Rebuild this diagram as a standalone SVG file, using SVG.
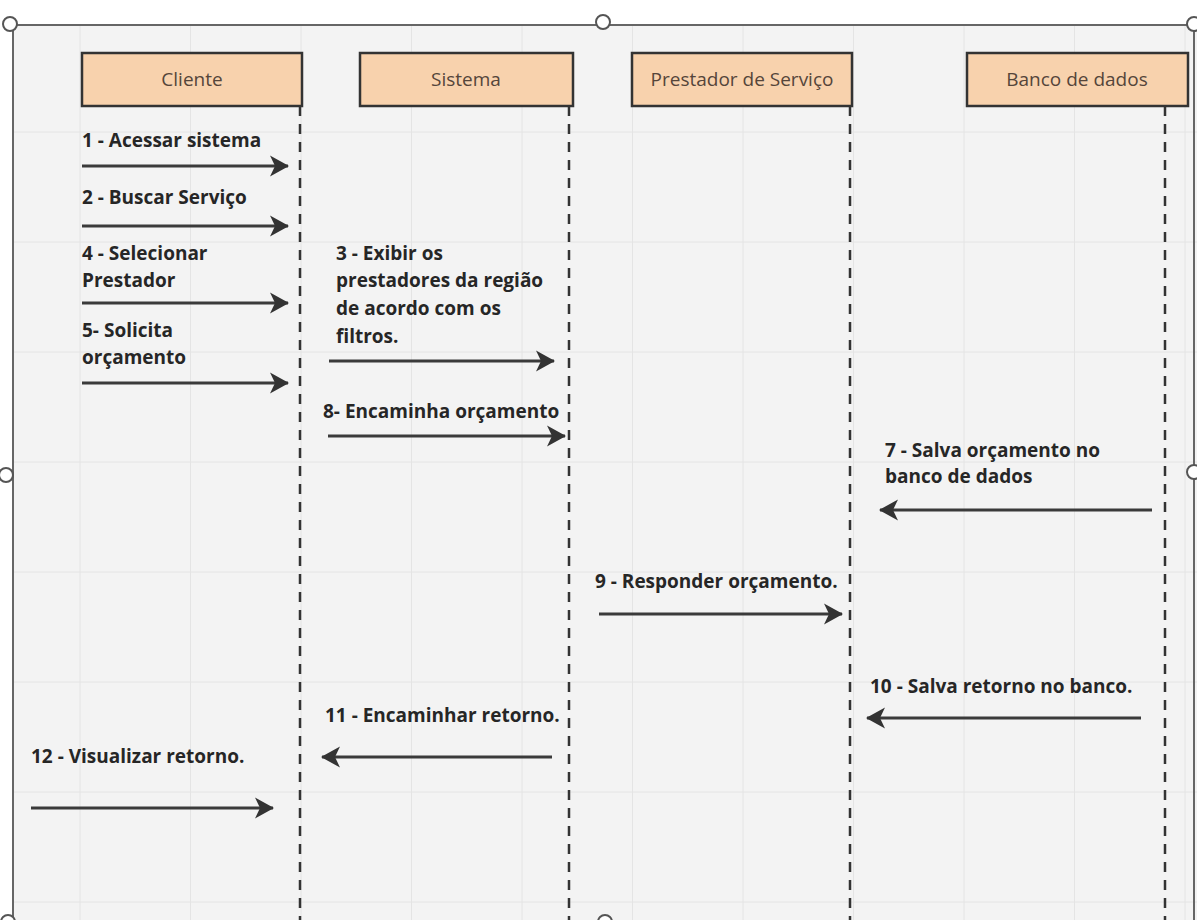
<svg xmlns="http://www.w3.org/2000/svg" width="1197" height="920" viewBox="0 0 1197 920">
  <style>
    .lbl { font-family: "Open Sans", "Noto Sans", "Liberation Sans", sans-serif; font-weight: 700; font-size: 19px; fill: #262626; }
    .head { font-family: "Open Sans", "Noto Sans", "Liberation Sans", sans-serif; font-size: 19px; fill: #55453a; text-anchor: middle; }
    .box { fill: #f8d2ad; stroke: #333; stroke-width: 2.5; }
    .life { stroke: #333; stroke-width: 2.5; stroke-dasharray: 10 8; fill: none; }
    .msg { stroke: #3a3a3a; stroke-width: 3; fill: none; marker-end: url(#head); }
    .grid { stroke: #e4e4e4; stroke-width: 1; }
    .handle { fill: #fff; stroke: #555; stroke-width: 2; }
  </style>
  <defs>
    <marker id="head" markerUnits="userSpaceOnUse" markerWidth="22" markerHeight="24" refX="18" refY="12" orient="auto">
      <path d="M0,1.5 L19,12 L0,22.5 L5,12 z" fill="#333"/>
    </marker>
  </defs>

  <!-- canvas -->
  <rect x="0" y="0" width="1197" height="920" fill="#ffffff"/>
  <rect x="13" y="25" width="1184" height="900" fill="#f3f3f3"/>
  <g id="grid">
    <line class="grid" x1="80" y1="25" x2="80" y2="920"/>
    <line class="grid" x1="190.5" y1="25" x2="190.5" y2="920"/>
    <line class="grid" x1="301" y1="25" x2="301" y2="920"/>
    <line class="grid" x1="411.5" y1="25" x2="411.5" y2="920"/>
    <line class="grid" x1="522" y1="25" x2="522" y2="920"/>
    <line class="grid" x1="632.5" y1="25" x2="632.5" y2="920"/>
    <line class="grid" x1="743" y1="25" x2="743" y2="920"/>
    <line class="grid" x1="853.5" y1="25" x2="853.5" y2="920"/>
    <line class="grid" x1="964" y1="25" x2="964" y2="920"/>
    <line class="grid" x1="1074.5" y1="25" x2="1074.5" y2="920"/>
    <line class="grid" x1="1185" y1="25" x2="1185" y2="920"/>
    <line class="grid" x1="13" y1="132" x2="1197" y2="132"/>
    <line class="grid" x1="13" y1="242" x2="1197" y2="242"/>
    <line class="grid" x1="13" y1="352" x2="1197" y2="352"/>
    <line class="grid" x1="13" y1="462" x2="1197" y2="462"/>
    <line class="grid" x1="13" y1="572" x2="1197" y2="572"/>
    <line class="grid" x1="13" y1="682" x2="1197" y2="682"/>
    <line class="grid" x1="13" y1="792" x2="1197" y2="792"/>
    <line class="grid" x1="13" y1="902" x2="1197" y2="902"/>
  </g>

  <!-- frame with handles -->
  <g id="frame">
    <path d="M13,925 L13,25 L1194,25 L1194,925" fill="none" stroke="#666" stroke-width="2"/>
    <circle class="handle" cx="10" cy="24" r="7"/>
    <circle class="handle" cx="603" cy="22" r="7"/>
    <circle class="handle" cx="1194" cy="24" r="7"/>
    <circle class="handle" cx="6" cy="475" r="7"/>
    <circle class="handle" cx="1194" cy="472" r="7"/>
    <circle class="handle" cx="8" cy="922" r="7"/>
    <circle class="handle" cx="605" cy="922" r="7"/>
  </g>

  <!-- participants -->
  <g id="cliente">
    <rect class="box" x="82" y="53" width="220" height="53"/>
    <text class="head" x="192" y="86">Cliente</text>
    <line class="life" x1="300" y1="106" x2="300" y2="920"/>
  </g>
  <g id="sistema">
    <rect class="box" x="360" y="53" width="213" height="53"/>
    <text class="head" x="466" y="86">Sistema</text>
    <line class="life" x1="569" y1="106" x2="569" y2="920"/>
  </g>
  <g id="prestador">
    <rect class="box" x="632" y="53" width="220" height="53"/>
    <text class="head" x="742" y="86">Prestador de Serviço</text>
    <line class="life" x1="850" y1="106" x2="850" y2="920"/>
  </g>
  <g id="banco">
    <rect class="box" x="967" y="53" width="221" height="53"/>
    <text class="head" x="1077" y="86">Banco de dados</text>
    <line class="life" x1="1165" y1="106" x2="1165" y2="920"/>
  </g>

  <!-- messages -->
  <g id="connectors">
    <line class="msg" x1="82" y1="166" x2="288" y2="166"/>
    <line class="msg" x1="82" y1="226" x2="288" y2="226"/>
    <line class="msg" x1="82" y1="303" x2="288" y2="303"/>
    <line class="msg" x1="82" y1="383" x2="288" y2="383"/>
    <line class="msg" x1="329" y1="361" x2="554" y2="361"/>
    <line class="msg" x1="328" y1="436" x2="565" y2="436"/>
    <line class="msg" x1="1152" y1="510" x2="880" y2="510"/>
    <line class="msg" x1="599" y1="614" x2="842" y2="614"/>
    <line class="msg" x1="1141" y1="718" x2="867" y2="718"/>
    <line class="msg" x1="552" y1="757" x2="322" y2="757"/>
    <line class="msg" x1="31" y1="808" x2="273" y2="808"/>
  </g>

  <!-- message labels -->
  <g id="labels">
    <text class="lbl" x="82" y="147">1 - Acessar sistema</text>
    <text class="lbl" x="82" y="204">2 - Buscar Serviço</text>
    <text class="lbl" x="82" y="260">4 - Selecionar</text>
    <text class="lbl" x="82" y="287">Prestador</text>
    <text class="lbl" x="82" y="337">5- Solicita</text>
    <text class="lbl" x="82" y="364">orçamento</text>
    <text class="lbl" x="336" y="260">3 - Exibir os</text>
    <text class="lbl" x="336" y="287">prestadores da região</text>
    <text class="lbl" x="336" y="315">de acordo com os</text>
    <text class="lbl" x="336" y="343">filtros.</text>
    <text class="lbl" x="323" y="418">8- Encaminha orçamento</text>
    <text class="lbl" x="885" y="457">7 - Salva orçamento no</text>
    <text class="lbl" x="885" y="483">banco de dados</text>
    <text class="lbl" x="595" y="588">9 - Responder orçamento.</text>
    <text class="lbl" x="870" y="693">10 - Salva retorno no banco.</text>
    <text class="lbl" x="325" y="722">11 - Encaminhar retorno.</text>
    <text class="lbl" x="31" y="763">12 - Visualizar retorno.</text>
  </g>
</svg>
